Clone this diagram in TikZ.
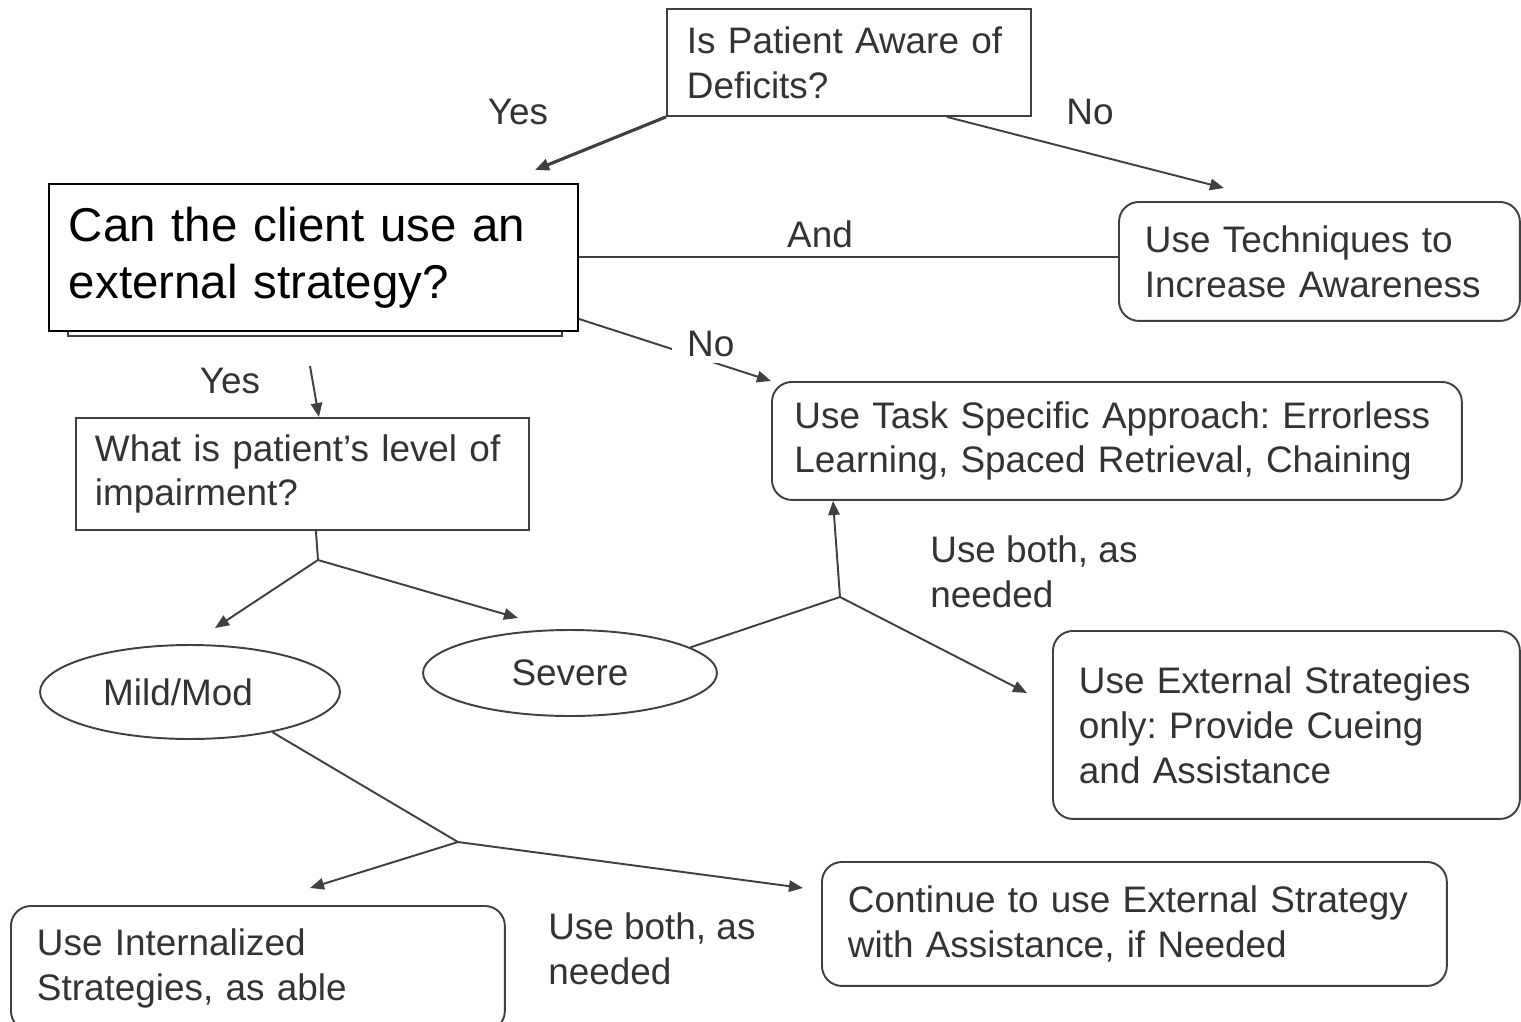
\documentclass[tikz,border=0pt]{standalone}
\usepackage{fontspec}
\setmainfont{Liberation Sans}
\usetikzlibrary{arrows.meta, positioning, calc, shapes}
\definecolor{ink}{HTML}{333333}
\definecolor{edge}{HTML}{404040}
\frenchspacing

\begin{document}
\begin{tikzpicture}[x=0.02cm, y=-0.02cm,
  every node/.style={font=\fontsize{21}{25.6}\selectfont, text=ink},
  box/.style={draw=edge, line width=1.1pt, fill=white, anchor=north west, align=left, inner xsep=0.4cm, inner ysep=0pt},
  rbox/.style={box, rounded corners=0.4cm, inner xsep=0.52cm},
  oval/.style={draw=edge, line width=1.1pt, ellipse, inner sep=0pt},
  arrow/.style={-{Triangle[length=8pt, width=6.5pt]}, draw=edge, line width=1.1pt},
  link/.style={draw=edge, line width=1.1pt},
  lbl/.style={anchor=base},
  note/.style={anchor=north west, align=left, inner sep=0pt}
]
  \useasboundingbox (0,0) rectangle (1521,1021);
  \clip (0,0) rectangle (1521,1021);

  % question boxes
  \node[box, text width=6.48cm, minimum height=2.14cm] (aware) at (666,8) {Is Patient Aware of\\Deficits?};
  \draw[edge, line width=1.1pt] (68,190) rectangle (562,336);
  \node[box, draw=black, text=black, text width=9.78cm, minimum height=2.94cm,
        font=\fontsize{27}{32.4}\selectfont] (client) at (48,183) {Can the client use an\\external strategy?};
  \node[box, inner xsep=0.38cm, text width=8.3cm, minimum height=2.24cm] (level) at (75,417) {What is patient’s level of\\impairment?};

  % answers
  \node[rbox, text width=6.98cm, minimum height=2.38cm] (aware2) at (1118,201) {Use Techniques to\\Increase Awareness};
  \node[rbox, inner xsep=0.45cm, text width=12.9cm, minimum height=2.36cm] (task) at (771,381) {Use Task Specific Approach: Errorless\\Learning, Spaced Retrieval, Chaining};
  \node[rbox, text width=8.3cm, minimum height=3.76cm] (extonly) at (1052,630) {Use External Strategies\\only: Provide Cueing\\and Assistance};
  \node[rbox, text width=8.84cm, minimum height=2.5cm] (internal) at (10,905) {Use Internalized\\Strategies, as able};
  \node[rbox, text width=11.46cm, minimum height=2.48cm] (continue) at (821,861) {Continue to use External Strategy\\with Assistance, if Needed};

  % severity
  \node[oval, minimum width=6cm, minimum height=1.88cm] (mild) at (190,692) {};
  \node[inner sep=0pt] (mildtext) at (178,692) {Mild/Mod};
  \node[oval, minimum width=5.88cm, minimum height=1.72cm] (severe) at (570,673) {Severe};

  \coordinate (yestip) at (535,170);
  \coordinate (notip) at (1224,188);
  \coordinate (yesstart) at (310,366);
  \coordinate (lvjoin) at (318,560);
  \coordinate (mildtip) at (215,628);
  \coordinate (sevtip) at (518,618);
  \coordinate (sevjoin) at (840,597);
  \coordinate (exttip) at (1027,693);
  \coordinate (mildjoin) at (458,842);
  \coordinate (inttip) at (310,888);
  \coordinate (conttip) at (803,888);

  \draw[arrow, line width=1.8pt] (aware.south west) -- (yestip);
  \node[lbl] (yes1) at (518,124) {Yes};
  \draw[arrow] ([xshift=-1.7cm]aware.south east) -- (notip);
  \node[lbl] (no1) at (1090,124) {No};

  \draw[link] (client.east) -- (client.east -| aware2.west);
  \node[lbl] (and) at (820,247) {And};
  \draw[arrow] ([yshift=0.26cm]client.south east) -- (task.north west)
    node[pos=0.64, fill=white, xshift=0.18cm, yshift=0.3cm, inner xsep=0.3cm, inner ysep=0.12cm] (no2) {No};

  \draw[arrow] (yesstart) -- ([xshift=0.33cm]level.north);
  \node[lbl] (yes2) at (230,393) {Yes};

  \draw[link] ([xshift=0.27cm]level.south) -- (lvjoin);
  \draw[arrow] (lvjoin) -- (mildtip);
  \draw[arrow] (lvjoin) -- (sevtip);

  \draw[link] (severe.12) -- (sevjoin);
  \draw[arrow] (sevjoin) -- ([xshift=1.24cm]task.south west);
  \draw[arrow] (sevjoin) -- (exttip);
  \node[note] (both1) at (930,535) {Use both, as\\needed};

  \draw[link] (mild.-26) -- (mildjoin);
  \draw[arrow] (mildjoin) -- (inttip);
  \draw[arrow] (mildjoin) -- (conttip);
  \node[note] (both2) at (548,912) {Use both, as\\needed};
\end{tikzpicture}
\end{document}
